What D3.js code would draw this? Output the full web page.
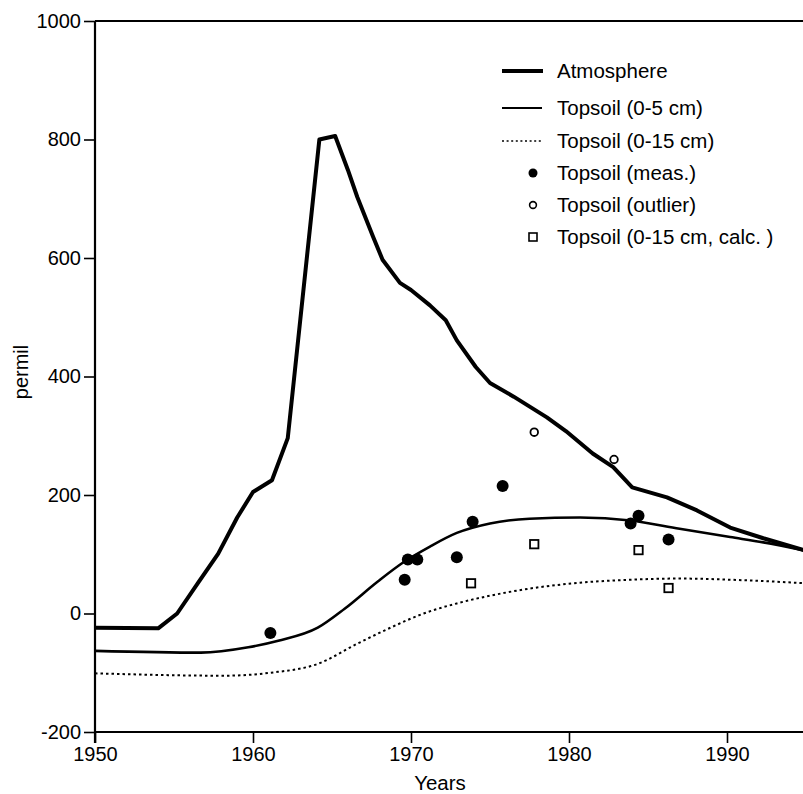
<!DOCTYPE html>
<html>
<head>
<meta charset="utf-8">
<script src="https://cdn.jsdelivr.net/npm/d3@7"></script>
<style>
  body { margin: 0; background: #fff; }
  svg { display: block; font-family: "Liberation Sans", Arial, Helvetica, sans-serif; }
</style>
</head>
<body>
<svg id="chart" width="803" height="794"></svg>
<script>
// Values (year, permil)
const atmosphere = [
  [1950, -24], [1954, -25], [1955.2, 0], [1956.5, 51], [1957.8, 101],
  [1959, 162], [1960, 205], [1961.2, 225], [1962.2, 296], [1964.2, 800],
  [1965.2, 806], [1966, 749], [1966.6, 703], [1967.6, 636], [1968.2, 597],
  [1969.3, 558], [1970, 546], [1971.2, 520], [1972.2, 495], [1972.9, 461],
  [1974.1, 416], [1975, 389], [1976.5, 366], [1978.6, 331], [1979.8, 308],
  [1981.5, 270], [1982.8, 247], [1984, 213], [1986.2, 196], [1988.1, 174],
  [1990.2, 145], [1992.3, 127], [1995, 106],
];

const topsoil5 = [
  [1950, -63], [1956.7, -66], [1959.7, -57], [1961.6, -46], [1964.1, -24],
  [1965.8, 8], [1967.9, 54], [1969.5, 86], [1971.2, 113], [1972.9, 136],
  [1975, 152], [1977.5, 160], [1980.7, 162], [1983.9, 157], [1987, 143],
  [1990.2, 129], [1992.3, 120], [1995, 106],
];

const topsoil15 = [
  [1950, -101], [1958.2, -105], [1961.1, -100], [1964.1, -85], [1966.6, -51],
  [1968.7, -24], [1970.8, 0], [1972.9, 17], [1975, 30], [1977.5, 42],
  [1980.7, 52], [1983.9, 57], [1987, 59], [1991.2, 56], [1995, 51],
];

const measured = [
  [1961.1, -33], [1969.6, 57], [1969.8, 91], [1970.4, 91], [1972.9, 95],
  [1973.9, 155], [1975.8, 215], [1983.9, 152], [1984.4, 165], [1986.3, 125],
];

const outliers = [[1977.8, 306], [1982.85, 260]];

const calculated = [[1973.8, 51], [1977.8, 117], [1984.4, 107], [1986.3, 43]];

const xTicks = [1950, 1960, 1970, 1980, 1990];
const yTicks = [-200, 0, 200, 400, 600, 800, 1000];

const legendLabels = [
  'Atmosphere',
  'Topsoil (0-5 cm)',
  'Topsoil (0-15 cm)',
  'Topsoil (meas.)',
  'Topsoil (outlier)',
  'Topsoil (0-15 cm, calc.  )',
];

const svg = d3.select('#chart');

const x = d3.scaleLinear().domain([1950, 1995]).range([95, 806]);
const y = d3.scaleLinear().domain([-200, 1000]).range([732, 21]);

// Axes
const xAxis = d3.axisBottom(x).tickValues(xTicks).tickSize(11).tickPadding(4).tickFormat((d) => String(d));
const yAxis = d3.axisLeft(y).tickValues(yTicks).tickSize(11).tickPadding(3).tickFormat((d) => String(d));

const gx = svg.append('g').attr('transform', `translate(0,${y(-200)})`).call(xAxis);
const gy = svg.append('g').attr('transform', `translate(${x(1950)},0)`).call(yAxis);

[gx, gy].forEach((g) => {
  g.attr('font-size', 20).attr('font-family', '"Liberation Sans", Arial, sans-serif');
  g.select('.domain').attr('stroke-width', 2.2).attr('stroke', '#000');
  g.selectAll('.tick line').attr('stroke-width', 1.6).attr('stroke', '#000');
  g.selectAll('.tick text').attr('fill', '#000');
});
gx.select('.domain').attr('d', `M${x(1950)},0H803`);
gy.select('.domain').attr('d', `M0,${y(-200) + 11}V${y(1000)}`);

// top frame line
svg.append('line')
  .attr('x1', x(1950)).attr('x2', 803)
  .attr('y1', y(1000)).attr('y2', y(1000))
  .attr('stroke', '#000').attr('stroke-width', 2);

// Axis titles
svg.append('text')
  .attr('x', 440).attr('y', 790)
  .attr('text-anchor', 'middle')
  .attr('font-size', 20.5)
  .text('Years');

svg.append('text')
  .attr('transform', 'translate(28,372) rotate(-90)')
  .attr('text-anchor', 'middle')
  .attr('font-size', 20)
  .text('permil');

// Lines
const line = d3.line().x((d) => x(d[0])).y((d) => y(d[1]));
const smooth = d3.line().x((d) => x(d[0])).y((d) => y(d[1])).curve(d3.curveMonotoneX);

svg.append('path')
  .datum(topsoil15)
  .attr('d', smooth)
  .attr('fill', 'none')
  .attr('stroke', '#000')
  .attr('stroke-width', 2)
  .attr('stroke-dasharray', '2.5,3');

svg.append('path')
  .datum(topsoil5)
  .attr('d', smooth)
  .attr('fill', 'none')
  .attr('stroke', '#000')
  .attr('stroke-width', 2.6);

svg.append('path')
  .datum(atmosphere)
  .attr('d', line)
  .attr('fill', 'none')
  .attr('stroke', '#000')
  .attr('stroke-width', 4)
  .attr('stroke-linejoin', 'round');

// Points
svg.append('g').selectAll('circle')
  .data(measured)
  .join('circle')
  .attr('cx', (d) => x(d[0]))
  .attr('cy', (d) => y(d[1]))
  .attr('r', 6)
  .attr('fill', '#000');

svg.append('g').selectAll('circle')
  .data(outliers)
  .join('circle')
  .attr('cx', (d) => x(d[0]))
  .attr('cy', (d) => y(d[1]))
  .attr('r', 3.8)
  .attr('fill', '#fff')
  .attr('stroke', '#000')
  .attr('stroke-width', 1.8);

svg.append('g').selectAll('rect')
  .data(calculated)
  .join('rect')
  .attr('x', (d) => x(d[0]) - 4.2)
  .attr('y', (d) => y(d[1]) - 4.2)
  .attr('width', 8.4)
  .attr('height', 8.4)
  .attr('fill', '#fff')
  .attr('stroke', '#000')
  .attr('stroke-width', 1.8);

// Legend
const legendY = [71, 108, 141, 173, 205, 237];
const legend = svg.append('g');

legendLabels.forEach((label, i) => {
  legend.append('text')
    .attr('x', 557)
    .attr('y', legendY[i])
    .attr('dy', '0.36em')
    .attr('font-size', 20.5)
    .text(label);
});

legend.append('line')
  .attr('x1', 502).attr('x2', 543).attr('y1', legendY[0]).attr('y2', legendY[0])
  .attr('stroke', '#000').attr('stroke-width', 4);
legend.append('line')
  .attr('x1', 502).attr('x2', 542).attr('y1', legendY[1]).attr('y2', legendY[1])
  .attr('stroke', '#000').attr('stroke-width', 2);
legend.append('line')
  .attr('x1', 502).attr('x2', 542).attr('y1', legendY[2]).attr('y2', legendY[2])
  .attr('stroke', '#000').attr('stroke-width', 1.6).attr('stroke-dasharray', '2,2.6');
legend.append('circle')
  .attr('cx', 533).attr('cy', legendY[3]).attr('r', 4.5).attr('fill', '#000');
legend.append('circle')
  .attr('cx', 533).attr('cy', legendY[4]).attr('r', 3.4)
  .attr('fill', '#fff').attr('stroke', '#000').attr('stroke-width', 1.6);
legend.append('rect')
  .attr('x', 529).attr('y', legendY[5] - 4).attr('width', 8).attr('height', 8)
  .attr('fill', '#fff').attr('stroke', '#000').attr('stroke-width', 1.6);
</script>
</body>
</html>
